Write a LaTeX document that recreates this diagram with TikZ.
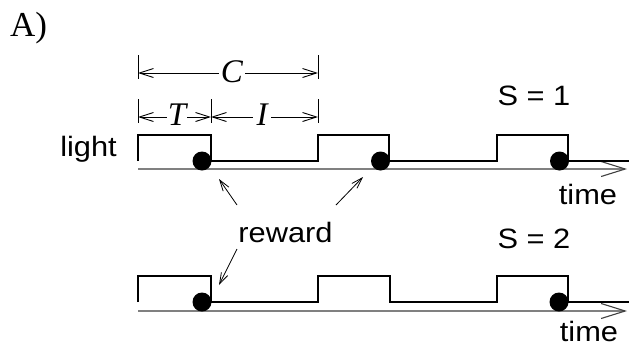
\documentclass[tikz,border=0pt]{standalone}
\usepackage{fontspec}
\setmainfont{Liberation Serif}
\newfontfamily\labfont[FakeStretch=1.1]{Liberation Sans}
\usetikzlibrary{arrows.meta}
\begin{document}
\begin{tikzpicture}[x=1pt,y=-1pt,
  sig/.style={line width=1.8pt, line join=miter},
  axis/.style={line width=1.3pt, draw=black!50, -{Straight Barb[length=24pt,width=15pt,line width=1.1pt,color=black!75]}},
  dim/.style={line width=0.9pt, {Straight Barb[length=14pt,width=9pt]}-{Straight Barb[length=14pt,width=9pt]}},
  tick/.style={line width=0.9pt},
  lab/.style={font=\labfont\fontsize{28}{31}\selectfont, inner sep=0pt, anchor=base},
  ital/.style={font=\fontsize{33}{36}\selectfont\itshape, fill=white, inner xsep=2pt, inner ysep=0pt, anchor=base},
  dot/.style={circle, fill=black, inner sep=0pt, minimum size=19pt},
  rew/.style={line width=0.8pt, -{Straight Barb[length=11pt,width=7pt]}}
]
\useasboundingbox (0,0) rectangle (629,354);

% panel label
\node[font=\fontsize{35}{38}\selectfont, inner sep=0pt, anchor=base west] (A) at (10,36) {A)};

% dimension ticks
\draw[tick] (138,55) -- (138,79);
\draw[tick] (318,55) -- (318,79);
\draw[tick] (138,99) -- (138,123);
\draw[tick] (211,99) -- (211,123);
\draw[tick] (318,99) -- (318,123);

\coordinate (c1) at (138,73);
\coordinate (c2) at (318,73);
\coordinate (t1) at (138,117);
\coordinate (t2) at (211,117);
\coordinate (i2) at (318,117);

\draw[dim] (c1) -- (c2);
\draw[dim] (t1) -- (t2);
\draw[dim] (t2) -- (i2);

\node[ital] (C) at (232,82) {C};
\node[ital, inner xsep=0.5pt] (T) at (177,125) {T};
\node[ital, inner xsep=4pt] (I) at (262,125) {I};

% upper signal
\draw[axis] (138,169) -- (627,169);
\draw[sig] (138,161) -- (138,135) -- (211,135) -- (211,161) -- (318,161) -- (318,135)
  -- (389,135) -- (389,161) -- (497,161) -- (497,135) -- (568,135) -- (568,161) -- (629,161);
\node[dot] (d1) at (202,161) {};
\node[dot] (d2) at (380.5,161) {};
\node[dot] (d3) at (559.5,161) {};

% lower signal
\draw[axis] (138,311) -- (627,311);
\draw[sig] (138,302) -- (138,276) -- (211,276) -- (211,302) -- (318,302) -- (318,276)
  -- (390,276) -- (390,302) -- (497,302) -- (497,276) -- (568,276) -- (568,302) -- (629,302);
\node[dot] (e1) at (202,302) {};
\node[dot] (e2) at (559,302) {};

% labels
\node[lab] (light) at (88.5,156) {light};
\node[lab] (s1) at (534,105) {S = 1};
\node[lab] (s2) at (534,248) {S = 2};
\node[lab] (time1) at (588,204) {time};
\node[lab] (time2) at (589,341) {time};
\node[lab] (reward) at (285.5,242) {reward};

% reward arrows
\coordinate (r1) at (237,205);
\coordinate (r2) at (336,205);
\coordinate (r3) at (237,249);
\coordinate (p1) at (219,179);
\coordinate (p2) at (363,177);
\coordinate (p3) at (219,285);
\draw[rew] (r1) -- (p1);
\draw[rew] (r2) -- (p2);
\draw[rew] (r3) -- (p3);
\end{tikzpicture}
\end{document}
